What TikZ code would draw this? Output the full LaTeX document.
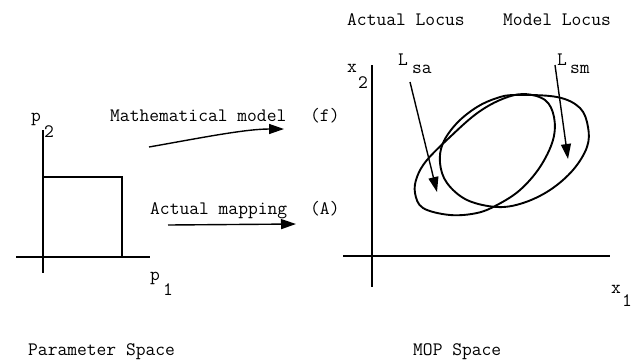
\documentclass[tikz,border=0pt]{standalone}
\usetikzlibrary{arrows.meta}
\begin{document}
\begin{tikzpicture}[x=1pt,y=-1pt,
  txt/.style={anchor=base west, inner sep=0pt, font=\fontsize{19}{23}\ttfamily},
  ax/.style={line width=1.7pt},
  crv/.style={line width=1.9pt},
  arr/.style={line width=1.4pt, -{Triangle[length=15pt,width=10pt]}}]
\useasboundingbox (0,0) rectangle (637,360);
% ---- parameter space ----
\coordinate (p2top) at (43,130);
\coordinate (p2bot) at (43,273);
\coordinate (p1l) at (16,257);
\coordinate (p1r) at (150,257);
\coordinate (r1) at (43,177);
\coordinate (r2) at (122,177);
\coordinate (r3) at (122,257);
\draw[ax] (p2top) -- (p2bot);
\draw[ax] (p1l) -- (p1r);
\draw[ax] (r1) -- (r2) -- (r3);
\node[txt] (p2p) at (31,121) {p};
\node[txt] (p2s) at (44,137) {2};
\node[txt] (p1p) at (150,280) {p};
\node[txt] (p1s) at (163,295) {1};
\node[txt] (pspace) at (28,355) {Parameter Space};
% ---- mappings ----
\node[txt] (mm) at (110,121) {Mathematical model};
\node[txt] (mf) at (310,121) {(f)};
\node[txt] (am) at (150,214) {Actual mapping};
\node[txt] (aA) at (310,214) {(A)};
\coordinate (fs) at (149,147);
\coordinate (fe) at (284,129);
\coordinate (as) at (168,225);
\coordinate (ae) at (296,224);
\draw[arr] (fs) .. controls (200,138) and (245,129) .. (fe);
\draw[arr] (as) -- (ae);
% ---- MOP space ----
\coordinate (x2top) at (372,65);
\coordinate (x2bot) at (372,287);
\coordinate (x1l) at (343,256);
\coordinate (x1r) at (610,256);
\draw[ax] (x2top) -- (x2bot);
\draw[ax] (x1l) -- (x1r);
\node[txt] (x2x) at (347,72) {x};
\node[txt] (x2s) at (358,88) {2};
\node[txt] (x1x) at (611,293) {x};
\node[txt] (x1s) at (622,306) {1};
\node[txt] (mop) at (413,355) {MOP Space};
\node[txt] (alocus) at (347,25) {Actual Locus};
\node[txt] (mlocus) at (503,25) {Model Locus};
\node[txt] (LsaL) at (398,65) {L};
\node[txt] (Lsas) at (412,73) {sa};
\node[txt] (LsmL) at (557,65) {L};
\node[txt] (Lsms) at (570,73) {sm};
% loci
\draw[crv] plot[smooth cycle, tension=0.6] coordinates {
  (523,94) (500,100) (476,114) (450,137) (427,160) (417,177) (415,193)
  (423,208) (450,215) (477,213) (497,205) (520,190) (540,167) (553,140)
  (554,117) (545,100)};
\draw[crv] plot[smooth cycle, tension=0.6] coordinates {
  (515,95) (557,97) (580,108) (588,127) (587,147) (573,170) (550,190)
  (523,203) (497,207) (467,200) (447,183) (440,163) (443,143) (457,123)
  (477,107) (497,98)};
\coordinate (sas) at (410,82);
\coordinate (sae) at (437,192);
\coordinate (sms) at (555,65);
\coordinate (sme) at (568,159);
\draw[arr] (sas) -- (sae);
\draw[arr] (sms) -- (sme);
\end{tikzpicture}
\end{document}
